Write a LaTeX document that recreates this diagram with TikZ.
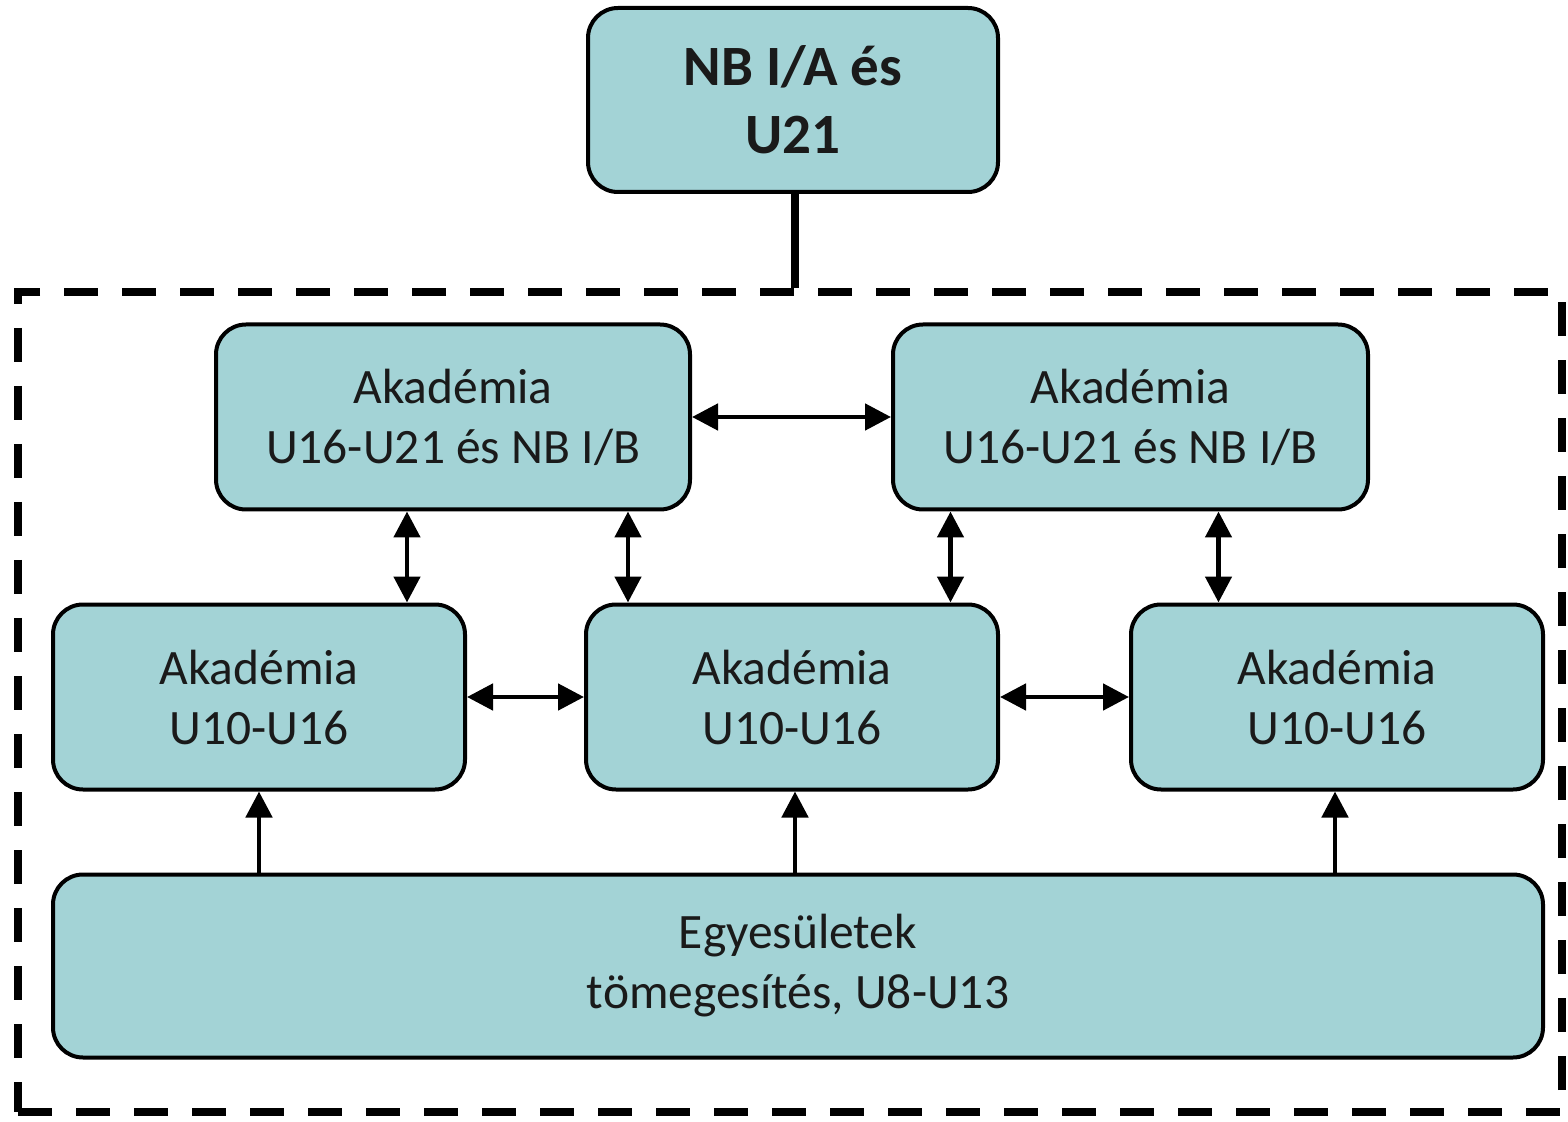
\documentclass[tikz,border=0pt]{standalone}
\usepackage{fontspec}
\setmainfont{Carlito}
\usetikzlibrary{arrows.meta}
\definecolor{boxfill}{HTML}{A3D3D6}
\definecolor{txt}{HTML}{1A1A1A}
\tikzset{
  box/.style={draw=black, line width=2pt, fill=boxfill, rounded corners=15pt,
    align=center, text=txt, inner sep=0pt},
  smallbox/.style={box, font=\fontsize{24.75}{30}\selectfont},
  dbl/.style={line width=2.4pt, {Triangle[length=13pt,width=13pt]}-{Triangle[length=13pt,width=13pt]}},
  up/.style={line width=2.4pt, -{Triangle[length=13pt,width=13pt]}},
}
\begin{document}
\begin{tikzpicture}[x=0.5pt,y=-0.5pt]
\useasboundingbox (0,0) rectangle (1568,1122);
\node[draw=black, line width=4pt, dash pattern=on 17pt off 12pt, minimum width=772pt, minimum height=410pt, inner sep=0pt] (grp) at (790,702) {};
\node[box, minimum width=205pt, minimum height=92pt, font=\bfseries\fontsize{28.5}{34}\selectfont] (top) at (793,100) {NB I/A és\\U21};
\node[smallbox, minimum width=237pt, minimum height=92.5pt] (tl) at (453,417) {Akadémia\\U16-U21 és NB I/B};
\node[smallbox, minimum width=237.5pt, minimum height=92.5pt] (tr) at (1130.5,417) {Akadémia\\U16-U21 és NB I/B};
\node[smallbox, minimum width=206pt, minimum height=92.5pt] (ml) at (259,697) {Akadémia\\U10-U16};
\node[smallbox, minimum width=206pt, minimum height=92.5pt] (mc) at (792,697) {Akadémia\\U10-U16};
\node[smallbox, minimum width=206pt, minimum height=92.5pt] (mr) at (1337,697) {Akadémia\\U10-U16};
\node[smallbox, minimum width=745pt, minimum height=91.5pt] (bot) at (798,966) {Egyesületek\\tömegesítés, U8-U13};
\draw[line width=4pt] ([xshift=1pt]top.south) -- ([xshift=1pt]top.south |- grp.north);
\draw[dbl] (tl.east) -- (tr.west);
\draw[dbl] ([xshift=-23pt]tl.south) -- ([xshift=-23pt]tl.south |- ml.north);
\draw[dbl] ([xshift=87.5pt]tl.south) -- ([xshift=87.5pt]tl.south |- mc.north);
\draw[dbl] ([xshift=-90pt]tr.south) -- ([xshift=-90pt]tr.south |- mc.north);
\draw[dbl] ([xshift=44pt]tr.south) -- ([xshift=44pt]tr.south |- mr.north);
\draw[dbl] (ml.east) -- (mc.west);
\draw[dbl] (mc.east) -- (mr.west);
\draw[up] (ml.south |- bot.north) -- (ml.south);
\draw[up] ([xshift=1.5pt]mc.south |- bot.north) -- ([xshift=1.5pt]mc.south);
\draw[up] ([xshift=-1pt]mr.south |- bot.north) -- ([xshift=-1pt]mr.south);
\end{tikzpicture}
\end{document}
